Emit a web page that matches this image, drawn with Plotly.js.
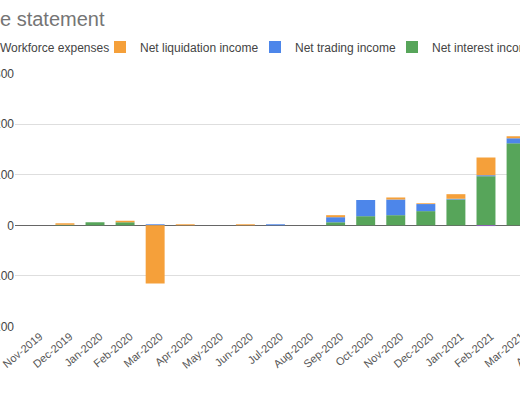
<!DOCTYPE html>
<html>
<head>
<meta charset="utf-8">
<script src="https://cdn.plot.ly/plotly-3.0.1.min.js"></script>
<style>
  html, body { margin: 0; padding: 0; overflow: hidden; background: #fff; }
  /* the reference is a crop: the chart runs past both window edges */
  #chart { position: absolute; left: -120px; top: 0; width: 950px; height: 400px; }
</style>
</head>
<body>
<div id="chart"></div>
<script>
// ── Data (one gridline = 100) ────────────────────────────────────────────────
const months = ['Nov-2019', 'Dec-2019', 'Jan-2020', 'Feb-2020', 'Mar-2020', 'Apr-2020',
  'May-2020', 'Jun-2020', 'Jul-2020', 'Aug-2020', 'Sep-2020', 'Oct-2020', 'Nov-2020',
  'Dec-2020', 'Jan-2021', 'Feb-2021', 'Mar-2021', 'Apr-2021'];

const netInterest    = [0, 1, 6, 6, 0, 0, 0, 0, 0, 0, 6, 18, 20, 28, 51, 97, 162, 0];
const netTrading     = [0, 0, 0, 0, 2, 0, 0, 0, 2, 0, 10, 32, 31, 14, 1.5, 2, 10, 0];
const netLiquidation = [0, 3, 0, 3, -115, 2, 0, 2, 0, 0, 4, 0, 4, 1.5, 9, 35, 4, 0];
const workforce      = [0, 0, 0, 0, 0, 0, 0, 0, 0, 0, 0, 0, 0, 0, 0, -1.5, 0, 0];

const yTicks = [-200, -100, 0, 100, 200, 300];

// page geometry: div starts 120px left of the window, plot starts at window x=15
const W = 950, L = 135, PW = 551, T = 73, PH = 254;

// ── Traces: first trace sits at the bottom of the stack ──────────────────────
function barTrace(name, ys, color, legendId) {
  return {
    type: 'bar',
    name: name,
    x: months,
    y: ys,
    legend: legendId,
    marker: { color: color, line: { width: 0 } },
    hoverinfo: 'skip',
  };
}

const traces = [
  barTrace('Net interest income', netInterest, '#57a55a', 'legend4'),
  barTrace('Net trading income', netTrading, '#4d86ea', 'legend3'),
  barTrace('Net liquidation income', netLiquidation, '#f5a03a', 'legend2'),
  barTrace('Workforce expenses', workforce, '#9c57d3', 'legend'),
];

// one legend per entry so the entries sit as tightly as in the reference;
// textX = where the entry text starts in the window
function legendAt(textX) {
  return {
    orientation: 'h',
    xref: 'paper', x: (textX + 80 - L) / PW, xanchor: 'left',
    yref: 'paper', y: 1 + (T - 47) / PH, yanchor: 'middle',
    font: { size: 12, color: '#444' },
    bgcolor: 'rgba(0,0,0,0)',
  };
}

const layout = {
  width: W,
  height: 400,
  paper_bgcolor: '#ffffff',
  plot_bgcolor: '#ffffff',
  font: { family: 'Arial, "Liberation Sans", sans-serif', color: '#444', size: 12 },
  margin: { l: L, r: W - L - PW, t: T, b: 400 - T - PH },
  barmode: 'relative',
  bargap: 0.37,
  title: {
    text: 'Income statement',
    font: { size: 20, color: '#757575' },
    xref: 'container', x: (120 - 54.5) / W, xanchor: 'left',
    yref: 'container', y: 1 - 18.5 / 400, yanchor: 'middle',
  },
  showlegend: true,
  legend: legendAt(0),
  legend2: legendAt(140),
  legend3: legendAt(295),
  legend4: legendAt(432),
  xaxis: {
    type: 'category',
    range: [-0.66, months.length - 0.34],
    tickangle: -40,
    ticklabelshift: 5,
    tickfont: { size: 11, color: '#555' },
    showgrid: false,
    zeroline: false,
    showline: false,
    ticks: '',
    fixedrange: true,
  },
  yaxis: {
    range: [-201, 301],
    tickvals: yTicks,
    ticktext: yTicks.map(String),
    tickfont: { size: 12, color: '#444' },
    gridcolor: '#dedede',
    gridwidth: 1,
    zeroline: true,
    zerolinecolor: '#666',
    zerolinewidth: 1.2,
    showline: false,
    ticks: '',
    fixedrange: true,
  },
};

Plotly.newPlot('chart', traces, layout, { displayModeBar: false, staticPlot: true });
</script>
</body>
</html>
